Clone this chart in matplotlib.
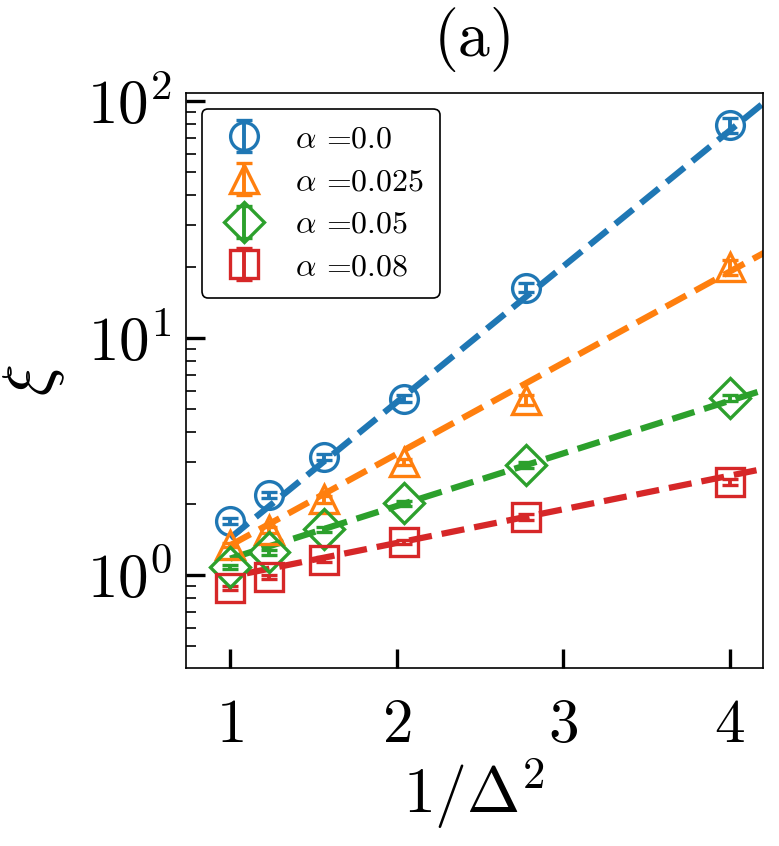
"""
xi vs 1/Delta^2 on a log axis, four alpha values with dashed exponential fits
"""
import numpy as np
import matplotlib
matplotlib.use('Agg')
import matplotlib.pyplot as plt

# Computer Modern look
matplotlib.rcParams['font.family'] = 'serif'
matplotlib.rcParams['font.serif'] = ['cmr10']
matplotlib.rcParams['mathtext.fontset'] = 'cm'
matplotlib.rcParams['axes.formatter.use_mathtext'] = True
matplotlib.rcParams['axes.unicode_minus'] = False

# data: x = 1/Delta^2 for Delta = 1.0 ... 0.5
inv_delta2 = [1.0, 1.235, 1.5625, 2.041, 2.778, 4.0]

xi_a000 = [1.69, 2.18, 3.15, 5.55, 16.3, 79.0]
xi_a025 = [1.34, 1.55, 2.09, 3.00, 5.47, 19.9]
xi_a050 = [1.08, 1.25, 1.56, 2.01, 2.91, 5.58]
xi_a080 = [0.88, 0.98, 1.16, 1.38, 1.76, 2.47]

err_a000 = [0.05, 0.07, 0.10, 0.20, 0.7, 6.0]
err_a025 = [0.03, 0.05, 0.07, 0.10, 0.25, 1.5]
err_a050 = [0.02, 0.03, 0.04, 0.05, 0.08, 0.15]
err_a080 = [0.02, 0.02, 0.03, 0.03, 0.05, 0.08]

labels = [r'$\alpha$ =0.0', r'$\alpha$ =0.025', r'$\alpha$ =0.05', r'$\alpha$ =0.08']
markers = ['o', '^', 'D', 's']
colors = ['#1f77b4', '#ff7f0e', '#2ca02c', '#d62728']

# dashed fits: log10(xi) = fit_b + fit_k * (x - 1)
fit_b = [0.156, 0.125, 0.069, -0.007]
fit_k = [0.573, 0.385, 0.222, 0.142]
fit_start = [1.0, 1.0, 1.0, 1.1]

series = [xi_a000, xi_a025, xi_a050, xi_a080]
errors = [err_a000, err_a025, err_a050, err_a080]

fig = plt.figure(figsize=(7.79, 8.46), dpi=100)
ax = fig.add_axes([0.2388, 0.2104, 0.7407, 0.6796])

for i in range(4):
    xf = np.linspace(fit_start[i], 4.3, 100)
    ax.plot(xf, 10 ** (fit_b[i] + fit_k[i] * (xf - 1)), ls='--', lw=4.5,
            color=colors[i], zorder=2)

for i in range(4):
    ax.errorbar(inv_delta2, series[i], yerr=errors[i], fmt=markers[i], ms=20,
                mfc='none', mec=colors[i], mew=2.4, color=colors[i],
                ecolor=colors[i], elinewidth=2.8, capsize=6, capthick=3,
                label=labels[i], zorder=3)

ax.set_yscale('log')
ax.set_xlim(0.735, 4.2)
ax.set_ylim(0.405, 108)
ax.set_xticks([1, 2, 3, 4])

ax.tick_params(which='major', direction='in', length=14, width=2.4,
               labelsize=44, top=False, right=False, pad=22)
ax.tick_params(which='minor', direction='in', length=7, width=1.2,
               top=False, right=False)
ax.tick_params(axis='y', which='major', pad=10)
for sp in ax.spines.values():
    sp.set_linewidth(1.2)

ax.set_xlabel(r'$1/\Delta^2$', fontsize=46, labelpad=2)
ax.set_ylabel(r'$\xi$', fontsize=48, labelpad=14)
ax.set_title('(a)', fontsize=46, pad=27)

leg = ax.legend(loc='upper left', bbox_to_anchor=(0.0, 1.0), fontsize=23,
                frameon=True, fancybox=True, edgecolor='black', framealpha=1,
                labelspacing=0.45, handlelength=1.6, borderpad=0.5,
                borderaxespad=0.5)
leg.get_frame().set_linewidth(1.2)

plt.savefig('out.png', dpi=100, facecolor='white')
plt.close()
